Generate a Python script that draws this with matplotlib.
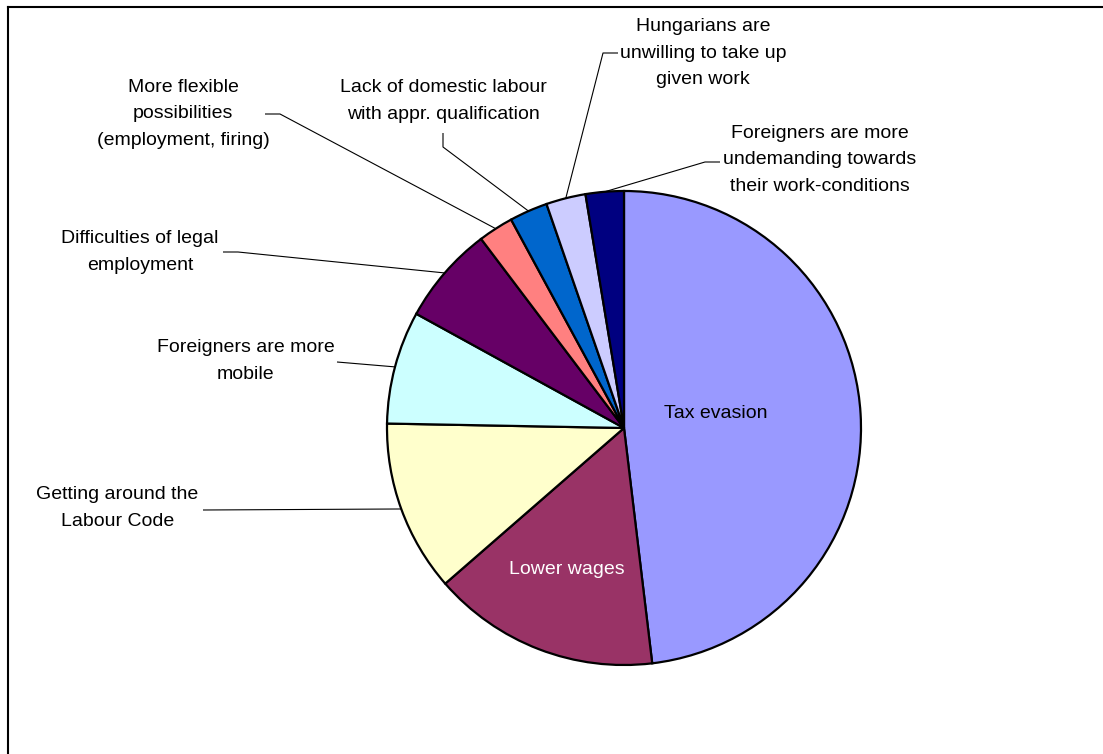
import matplotlib
matplotlib.use("Agg")
import matplotlib.pyplot as plt
import numpy as np

# Reasons for employing foreign workers illegally (share of answers, %)
categories = [
    "Tax evasion",
    "Lower wages",
    "Getting around the\nLabour Code",
    "Foreigners are more\nmobile",
    "Difficulties of legal\nemployment",
    "More flexible\npossibilities\n(employment, firing)",
    "Lack of domestic labour\nwith appr. qualification",
    "Hungarians are\nunwilling to take up\ngiven work",
    "Foreigners are more\nundemanding towards\ntheir work-conditions",
]
shares = [48.1, 15.5, 11.7, 7.7, 6.7, 2.4, 2.6, 2.7, 2.6]
colors = ["#9999FF", "#993366", "#FFFFCC", "#CCFFFF", "#660066",
          "#FF8080", "#0066CC", "#CCCCFF", "#000080"]

W, H = 1103, 754
plt.rcParams["font.family"] = ["Liberation Sans", "DejaVu Sans"]

fig = plt.figure(figsize=(W / 100, H / 100), dpi=100)
ax = fig.add_axes([0, 0, 1, 1])


def Y(y):
    # work in top-down pixel rows
    return H - y


cx, cy, R = 624, 428, 237
wedges, _ = ax.pie(shares, colors=colors, startangle=90, counterclock=False,
                   center=(cx, Y(cy)), radius=R, frame=True,
                   wedgeprops=dict(edgecolor="black", linewidth=1.6))
ax.set_xlim(0, W)
ax.set_ylim(0, H)
ax.set_aspect("equal")
ax.axis("off")

FS = 14

# labels inside the two largest slices
ax.text(716, Y(414), categories[0], ha="center", va="center", fontsize=FS, color="black")
ax.text(567, Y(569), categories[1], ha="center", va="center", fontsize=FS, color="white")

# outside labels: text centre and the start of the leader line
outside = {
    2: ((117.5, 508), [(203, 510)]),
    3: ((246, 361), [(337, 362)]),
    4: ((140, 252), [(223, 252), (238, 252)]),
    5: ((183, 114), [(265, 114), (280, 114)]),
    6: ((443, 101), [(443, 133), (443, 147)]),
    7: ((703, 53), [(618, 53), (603, 53)]),
    8: ((820, 160), [(720, 162), (705, 162)]),
}
for i, ((tx, ty), pts) in outside.items():
    ax.text(tx, Y(ty), categories[i], ha="center", va="center",
            fontsize=FS, color="black", linespacing=1.73)
    w = wedges[i]
    mid = np.deg2rad((w.theta1 + w.theta2) / 2)
    ex = cx + R * np.cos(mid)
    ey = Y(cy) + R * np.sin(mid)
    xs = [p[0] for p in pts] + [ex]
    ys = [Y(p[1]) for p in pts] + [ey]
    ax.plot(xs, ys, color="black", linewidth=0.8, solid_capstyle="butt")

# chart-area border (top and left edges)
ax.plot([8, W + 5], [Y(7), Y(7)], color="black", linewidth=1.5, clip_on=False)
ax.plot([8, 8], [Y(7), -5], color="black", linewidth=1.5, clip_on=False)

fig.savefig("out.png", dpi=100)
